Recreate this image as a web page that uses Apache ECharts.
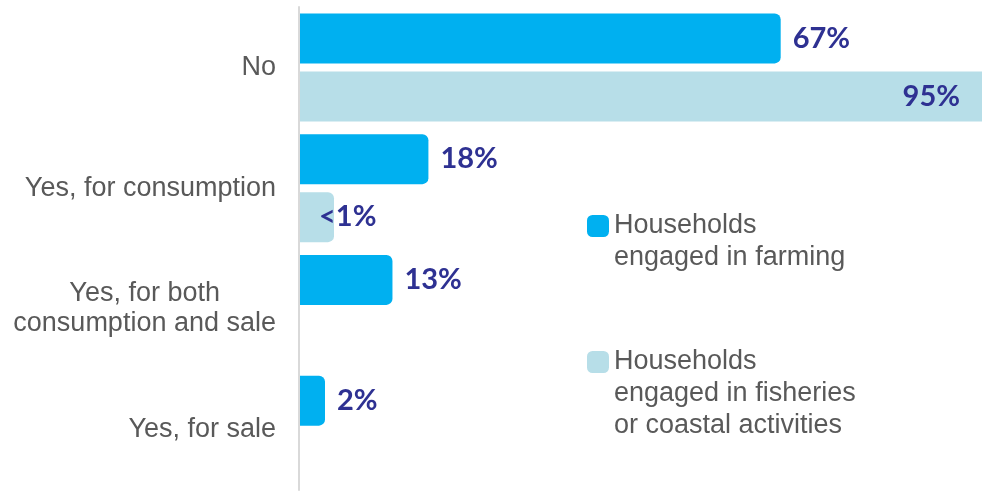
<!DOCTYPE html>
<html><head><meta charset="utf-8">
<script src="https://cdn.jsdelivr.net/npm/echarts@6/dist/echarts.min.js"></script>
<style>html,body{margin:0;padding:0;background:#fff}#c{width:982px;height:492px}</style>
</head><body><div id="c"></div>
<script>
const categories = ['No', 'Yes, for consumption', 'Yes, for both\nconsumption and sale', 'Yes, for sale'];
const seriesNames = ['Households\nengaged in farming', 'Households\nengaged in fisheries\nor coastal activities'];
const farming = [67, 18, 13, 2];
const fisheries = [95, 0.5, null, null];
const farmingLabels = ['67%', '18%', '13%', '2%'];
const fisheriesLabels = ['95%', '<1%', '', ''];

const textFont = 'Liberation Sans';
const labelFont = 'Lato';
const grey = '#595959';
const navy = '#2E3192';

const chart = echarts.init(document.getElementById('c'));
chart.setOption({
  animation: false,
  backgroundColor: '#fff',
  grid: { left: 299, top: 7, right: 0, height: 483, containLabel: false },
  xAxis: { type: 'value', min: 0, max: 95, show: false },
  yAxis: {
    type: 'category', data: categories, inverse: true, z: 10,
    axisLine: { show: true, lineStyle: { color: '#D9D9D9', width: 2 } },
    axisTick: { show: false },
    splitLine: { show: false },
    axisLabel: {
      margin: 23, fontSize: 27, color: grey, fontFamily: textFont, lineHeight: 30,
      formatter: v => v.split('\n').map(s => '{c|' + s + '}').join('\n'),
      rich: { c: { align: 'center', fontSize: 27, color: grey, fontFamily: textFont, lineHeight: 30 } }
    }
  },
  legend: {
    orient: 'vertical', left: 587, top: 178, padding: 0, itemGap: 8, itemWidth: 22, itemHeight: 22,
    icon: 'roundRect', selectedMode: false,
    textStyle: { fontFamily: textFont, fontSize: 27, color: grey, lineHeight: 32 },
    formatter: name => '\n'.repeat(name.split('\n').length - 1) + name,
    data: seriesNames
  },
  series: [
    {
      name: seriesNames[0], type: 'bar', barWidth: 50, barGap: '16%', barMinHeight: 26,
      data: farming.map(v => (v == null ? '-' : v)),
      itemStyle: { color: '#00B0F0', borderRadius: [0, 6, 6, 0] },
      label: {
        show: true, position: 'right', distance: 12, fontSize: 29, fontWeight: 'bold',
        color: navy, fontFamily: labelFont,
        formatter: p => farmingLabels[p.dataIndex]
      }
    },
    {
      name: seriesNames[1], type: 'bar', barWidth: 50, barGap: '16%', barMinHeight: 35,
      data: fisheries.map((v, i) => {
        if (v == null) return '-';
        if (i === 0) return { value: v, itemStyle: { borderRadius: 0 }, label: { position: 'insideRight', distance: 22 } };
        if (i === 1) return { value: v, label: { position: 'right', distance: -15 } };
        return v;
      }),
      itemStyle: { color: '#B7DEE8', borderRadius: [0, 6, 6, 0] },
      label: {
        show: true, position: 'right', distance: 11, fontSize: 29, fontWeight: 'bold',
        color: navy, fontFamily: labelFont,
        formatter: p => fisheriesLabels[p.dataIndex]
      }
    }
  ]
});
</script>
</body></html>
